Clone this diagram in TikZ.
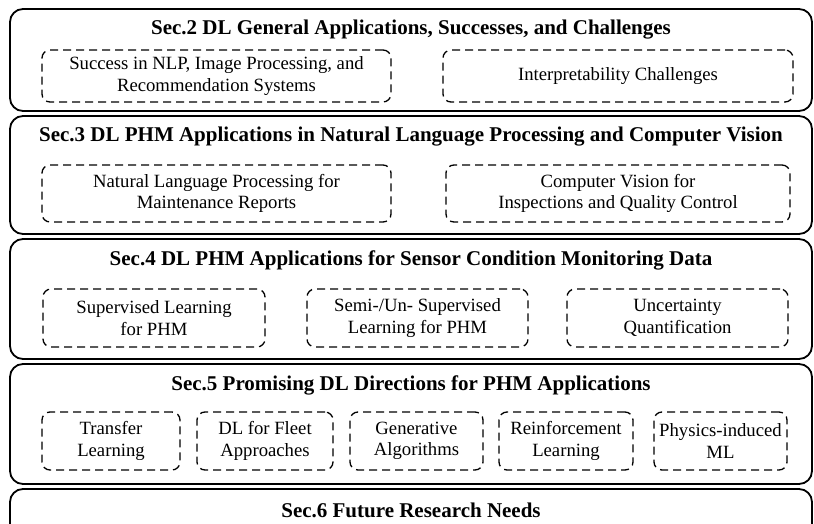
\documentclass[tikz,border=0pt]{standalone}
\usepackage{fontspec}
\setmainfont{Liberation Serif}
\usepackage{tikz}
\usetikzlibrary{positioning,calc}
\tikzset{
  secbox/.style={draw, rounded corners=13pt, line width=1.8pt, minimum width=802pt, inner sep=0pt, outer sep=0pt},
  sectitle/.style={inner sep=0pt, font=\fontsize{21}{24}\selectfont\bfseries},
  topicbox/.style={draw, dashed, dash pattern=on 8pt off 5pt, rounded corners=8pt, line width=1.3pt, align=center, inner sep=2pt, font=\fontsize{18.7}{21.5}\selectfont}
}

\begin{document}
\begin{tikzpicture}[x=1pt, y=-1pt, node distance=5pt]
\clip (0,0) rectangle (814,524);
\fill[white] (0,0) rectangle (814,524);

% section frames
\node[secbox, minimum height=102pt] (sec2) at (411,60) {};
\node[secbox, minimum height=118pt, below=of sec2] (sec3) {};
\node[secbox, minimum height=120pt, below=of sec3] (sec4) {};
\node[secbox, minimum height=120pt, below=of sec4] (sec5) {};
\node[secbox, minimum height=120pt, below=of sec5] (sec6) {};

\node[sectitle] (sec2title) at ([yshift=-21pt]sec2.north) {Sec.2 DL General Applications, Successes, and Challenges};
\node[sectitle] (sec3title) at ([yshift=-21pt]sec3.north) {Sec.3 DL PHM Applications in Natural Language Processing and Computer Vision};
\node[sectitle] (sec4title) at ([yshift=-21pt]sec4.north) {Sec.4 DL PHM Applications for Sensor Condition Monitoring Data};
\node[sectitle] (sec5title) at ([yshift=-21pt]sec5.north) {Sec.5 Promising DL Directions for PHM Applications};
\node[sectitle] (sec6title) at ([yshift=-21pt]sec6.north) {Sec.6 Future Research Needs};

% Sec.2 topics
\node[topicbox, minimum width=349pt, minimum height=52pt] (success) at (216.5,76) {Success in NLP, Image Processing, and\\Recommendation Systems};
\node[topicbox, minimum width=350pt, minimum height=52pt] (interpret) at (618,76) {Interpretability Challenges};

% Sec.3 topics
\node[topicbox, minimum width=349pt, minimum height=57pt] (nlp) at (216.5,193.5) {Natural Language Processing for\\Maintenance Reports};
\node[topicbox, minimum width=344pt, minimum height=57pt] (vision) at (618,193.5) {Computer Vision for\\Inspections and Quality Control};

% Sec.4 topics
\node[topicbox, minimum width=222pt, minimum height=58pt] (supervised) at (154,318) {Supervised Learning\\for PHM};
\node[topicbox, minimum width=221pt, minimum height=58pt] (semisup) at (417.5,318) {Semi-/Un- Supervised\\Learning for PHM};
\node[topicbox, minimum width=221pt, minimum height=58pt] (uncertainty) at (677.5,318) {Uncertainty\\Quantification};

% Sec.5 topics
\node[topicbox, minimum width=138pt, minimum height=58pt] (transfer) at (111,441) {Transfer\\Learning};
\node[topicbox, minimum width=136pt, minimum height=58pt] (fleet) at (265,441) {DL for Fleet\\Approaches};
\node[topicbox, minimum width=133pt, minimum height=58pt] (generative) at (416.5,441) {Generative\\Algorithms};
\node[topicbox, minimum width=134pt, minimum height=58pt] (reinforce) at (566,441) {Reinforcement\\Learning};
\node[topicbox, minimum width=133pt, minimum height=58pt] (physics) at (720.5,441) {Physics-induced\\ML};
\end{tikzpicture}
\end{document}
